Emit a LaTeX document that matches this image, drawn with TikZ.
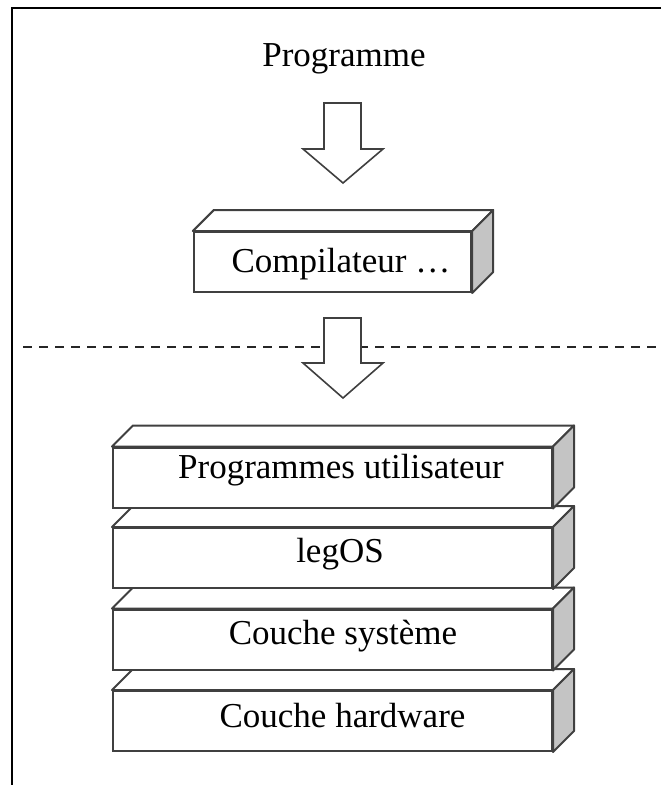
\documentclass[tikz,border=0pt]{standalone}
\usepackage{fontspec}
\setmainfont{Liberation Serif}
\usetikzlibrary{calc}
\definecolor{edge}{HTML}{404040}
\definecolor{side}{HTML}{C4C4C4}
\tikzset{
  layer/.style={draw=edge, line width=1.5pt, fill=white, rectangle, inner sep=0pt,
    minimum height=45pt},
  topface/.style={draw=edge, line width=1.5pt, fill=white, line join=round},
  sideface/.style={draw=edge, line width=1.5pt, fill=side, line join=round},
  blockarrow/.style={draw=edge, line width=1.2pt, fill=white, line join=miter},
  sep/.style={draw=black!85, line width=1.5pt, dash pattern=on 7pt off 5pt},
  frame/.style={draw=black, line width=1.5pt},
  label/.style={font=\fontsize{26.25}{30}\selectfont, text=black, inner sep=0pt, anchor=base}
}
\newcommand{\boxdepth}[1]{%
  \draw[topface] (#1.north west) -- ++(21,-21) -- ($(#1.north east)+(21,-21)$) -- (#1.north east) -- cycle;
  \draw[sideface] (#1.north east) -- ++(21,-21) -- ($(#1.south east)+(21,-21)$) -- (#1.south east) -- cycle;
}
\begin{document}
\begin{tikzpicture}[x=0.75pt,y=-0.75pt]
\useasboundingbox (0,0) rectangle (661,785);
% frame
\coordinate (ftr) at (661,8);
\coordinate (ftl) at (12,8);
\coordinate (fbl) at (12,785);
\draw[frame] (ftr) -- (ftl) -- (fbl);

% title
\node[label] (prog) at (344,66) {Programme};

% arrow 1
\draw[blockarrow] (324,103) -- (361,103) -- (361,149) -- (383,149) -- (343,183)
  -- (303,149) -- (324,149) -- cycle;

% compiler box
\node[layer, minimum width=208pt] (comp) at (332.5,262) {};
\boxdepth{comp}
\node[label] (compT) at (341,272) {Compilateur …};

% dashed separator
\coordinate (sepL) at (23,347);
\coordinate (sepR) at (661,347);
\draw[sep] (sepL) -- (sepR);

% arrow 2
\draw[blockarrow] (324,318) -- (361,318) -- (361,363) -- (383,363) -- (343,398)
  -- (303,363) -- (324,363) -- cycle;

% layer stack (bottom first so upper ones overlap correctly)
\node[layer, minimum width=329.25pt] (hw) at (332.5,721) {};
\boxdepth{hw}
\node[label] (hwT) at (342.5,727) {Couche hardware};
\node[layer, minimum width=329.25pt] (sys) at (332.5,639.5) {};
\boxdepth{sys}
\node[label] (sysT) at (343,644) {Couche système};
\node[layer, minimum width=329.25pt] (leg) at (332.5,558) {};
\boxdepth{leg}
\node[label] (legT) at (340,562) {legOS};
\node[layer, minimum width=329.25pt] (user) at (332.5,477.5) {};
\boxdepth{user}
\node[label] (userT) at (341,478) {Programmes utilisateur};
\end{tikzpicture}
\end{document}
